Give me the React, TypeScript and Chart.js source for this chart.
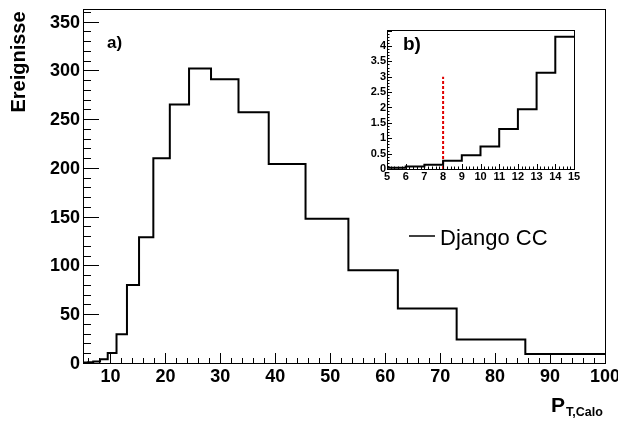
import React, { useEffect, useRef } from "react";
import { Chart, registerables } from "chart.js";

Chart.register(...registerables);

// Main histogram: variable-width bins (left edges + final right edge) and counts
const mainEdges = [5, 5.9, 6.86, 8.1, 9.5, 11.1, 13.0, 15.2, 17.8, 20.8, 24.3, 28.3, 33.3, 38.8, 45.5, 53.3, 62.3, 73.0, 85.5, 100];
const mainCounts = [0.5, 0.8, 1.5, 3.8, 10.3, 29.5, 80, 129, 210, 265, 302, 291, 257, 204, 148, 95, 56, 24, 9.2];
const mainXTicks = [10, 20, 30, 40, 50, 60, 70, 80, 90, 100];
const mainYTicks = [0, 50, 100, 150, 200, 250, 300, 350];

// Inset histogram b)
const insetEdges = [5, 6, 7, 8, 9, 10, 11, 12, 13, 14, 15];
const insetValues = [0.04, 0.08, 0.14, 0.27, 0.45, 0.73, 1.3, 1.94, 3.13, 4.3];
const insetXTicks = [5, 6, 7, 8, 9, 10, 11, 12, 13, 14, 15];
const insetYTicks = [0, 0.5, 1, 1.5, 2, 2.5, 3, 3.5, 4];
const cutX = [8, 8];
const cutY = [0, 3];

const seriesLabel = "Django CC";
const FONT = '"Liberation Sans", Arial, Helvetica, sans-serif';

function stepPoints(edges: number[], vals: number[]) {
  const pts = vals.map((v, i) => ({ x: edges[i], y: v }));
  pts.push({ x: edges[edges.length - 1], y: vals[vals.length - 1] });
  return pts;
}

function range(a: number, b: number, s: number) {
  const out: number[] = [];
  for (let v = a; v <= b + 1e-9; v += s) out.push(Math.round(v * 1000) / 1000);
  return out;
}

const mainPlugin = {
  id: "mainAxes",
  afterDraw(chart: any) {
    const { ctx, chartArea: a, scales } = chart;
    const xs = scales.x, ys = scales.y;
    ctx.save();
    ctx.strokeStyle = "#000";
    ctx.lineWidth = 1;
    ctx.strokeRect(a.left + 0.5, a.top + 0.5, a.right - a.left, a.bottom - a.top);
    ctx.beginPath();
    range(6, 100, 2).forEach((v) => {
      const px = Math.round(xs.getPixelForValue(v)) + 0.5;
      const major = mainXTicks.includes(v);
      ctx.moveTo(px, a.bottom);
      ctx.lineTo(px, a.bottom - (major ? 10 : 5));
    });
    range(0, 360, 10).forEach((v) => {
      const py = Math.round(ys.getPixelForValue(v)) + 0.5;
      const major = mainYTicks.includes(v);
      ctx.moveTo(a.left, py);
      ctx.lineTo(a.left + (major ? 16 : 8), py);
    });
    ctx.stroke();
    ctx.fillStyle = "#000";
    ctx.font = `bold 18px ${FONT}`;
    ctx.textAlign = "center";
    ctx.textBaseline = "middle";
    mainXTicks.forEach((v) => {
      ctx.fillText(String(v), xs.getPixelForValue(v), a.bottom + 14);
    });
    ctx.textAlign = "right";
    mainYTicks.forEach((v) => {
      ctx.fillText(String(v), a.left - 3, ys.getPixelForValue(v) + 1);
    });
    ctx.save();
    ctx.translate(25, 62);
    ctx.rotate(-Math.PI / 2);
    ctx.textAlign = "center";
    ctx.textBaseline = "alphabetic";
    ctx.font = `bold 20px ${FONT}`;
    ctx.fillText("Ereignisse", 0, 0);
    ctx.restore();
    ctx.textBaseline = "alphabetic";
    ctx.textAlign = "left";
    ctx.font = `bold 21px ${FONT}`;
    ctx.fillText("P", 551, 412);
    ctx.font = `bold 12.5px ${FONT}`;
    ctx.fillText("T,Calo", 566, 416);
    ctx.font = `bold 17px ${FONT}`;
    ctx.fillText("a)", 107, 48);
    ctx.beginPath();
    ctx.lineWidth = 1.5;
    ctx.moveTo(409, 236);
    ctx.lineTo(435, 236);
    ctx.stroke();
    ctx.font = `22px ${FONT}`;
    ctx.fillText(seriesLabel, 440, 245);
    ctx.restore();
  },
};

const insetPlugin = {
  id: "insetAxes",
  afterDraw(chart: any) {
    const { ctx, chartArea: a, scales } = chart;
    const xs = scales.x, ys = scales.y;
    ctx.save();
    ctx.strokeStyle = "#000";
    ctx.lineWidth = 1;
    ctx.strokeRect(a.left + 0.5, a.top + 0.5, a.right - a.left, a.bottom - a.top);
    ctx.beginPath();
    range(5, 15, 0.2).forEach((v) => {
      const px = Math.round(xs.getPixelForValue(v)) + 0.5;
      const major = Math.abs(v - Math.round(v)) < 1e-6;
      ctx.moveTo(px, a.bottom);
      ctx.lineTo(px, a.bottom - (major ? 5 : 2.5));
    });
    range(0, 4.5, 0.1).forEach((v) => {
      const py = Math.round(ys.getPixelForValue(v)) + 0.5;
      const major = Math.abs(v * 2 - Math.round(v * 2)) < 1e-6;
      ctx.moveTo(a.left, py);
      ctx.lineTo(a.left + (major ? 5 : 2.5), py);
    });
    ctx.stroke();
    ctx.fillStyle = "#000";
    ctx.font = `bold 11px ${FONT}`;
    ctx.textAlign = "center";
    ctx.textBaseline = "middle";
    insetXTicks.forEach((v) => {
      ctx.fillText(String(v), xs.getPixelForValue(v), a.bottom + 8);
    });
    ctx.textAlign = "right";
    insetYTicks.forEach((v) => {
      ctx.fillText(String(v), a.left - 1, ys.getPixelForValue(v));
    });
    ctx.textAlign = "left";
    ctx.textBaseline = "alphabetic";
    ctx.font = `bold 19px ${FONT}`;
    ctx.fillText("b)", a.left + 16, a.top + 20);
    ctx.restore();
  },
};

export default function App() {
  const mainRef = useRef<HTMLCanvasElement>(null);
  const insetRef = useRef<HTMLCanvasElement>(null);

  useEffect(() => {
    const main = new Chart(mainRef.current!, {
      type: "line",
      data: {
        datasets: [
          {
            label: seriesLabel,
            data: stepPoints(mainEdges, mainCounts),
            stepped: "before",
            borderColor: "#000",
            borderWidth: 2,
            pointRadius: 0,
            fill: false,
          },
        ],
      },
      options: {
        responsive: false,
        animation: false,
        layout: { padding: { left: 83, top: 9, right: 13, bottom: 58 } },
        scales: {
          x: { type: "linear", min: 5, max: 100, display: false },
          y: { type: "linear", min: 0, max: 363, display: false },
        },
        plugins: { legend: { display: false }, tooltip: { enabled: false } },
      },
      plugins: [mainPlugin],
    } as any);

    const inset = new Chart(insetRef.current!, {
      type: "line",
      data: {
        datasets: [
          {
            label: "inset",
            data: stepPoints(insetEdges, insetValues),
            stepped: "before",
            borderColor: "#000",
            borderWidth: 2,
            pointRadius: 0,
            fill: false,
          },
          {
            label: "cut",
            data: cutX.map((x, i) => ({ x, y: cutY[i] })),
            borderColor: "#e00000",
            borderWidth: 2,
            borderDash: [3, 2],
            pointRadius: 0,
            fill: false,
          },
        ],
      },
      options: {
        responsive: false,
        animation: false,
        layout: { padding: { left: 27, top: 10, right: 26, bottom: 31 } },
        scales: {
          x: { type: "linear", min: 5, max: 15, display: false },
          y: { type: "linear", min: 0, max: 4.52, display: false },
        },
        plugins: { legend: { display: false }, tooltip: { enabled: false } },
      },
      plugins: [insetPlugin],
    } as any);

    return () => {
      main.destroy();
      inset.destroy();
    };
  }, []);

  return (
    <div style={{ position: "absolute", left: 0, top: 0, width: 618, height: 421, background: "#fff" }}>
      <canvas ref={mainRef} width={618} height={421} style={{ position: "absolute", left: 0, top: 0 }} />
      <canvas ref={insetRef} width={240} height={180} style={{ position: "absolute", left: 360, top: 20 }} />
    </div>
  );
}
